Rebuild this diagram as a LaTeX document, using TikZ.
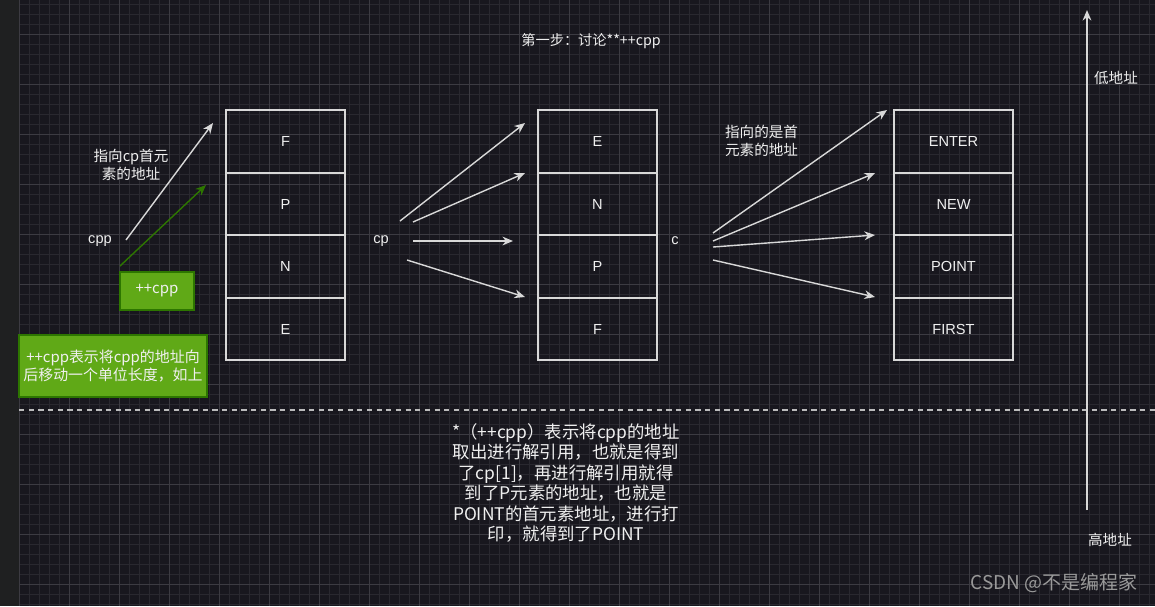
\documentclass[tikz,border=0pt]{standalone}
\usepackage{fontspec}
\setmainfont{Noto Sans CJK SC}
\newfontfamily\lat{Liberation Sans}
\usetikzlibrary{arrows.meta}
\definecolor{bg}{HTML}{18171E}
\definecolor{strip}{HTML}{1F2021}
\definecolor{gminor}{HTML}{29282F}
\definecolor{gmajor}{HTML}{3C3B42}
\definecolor{fg}{HTML}{F0F0F0}
\definecolor{ln}{HTML}{D8D8D8}
\definecolor{gfill}{HTML}{60A917}
\definecolor{gdraw}{HTML}{2D7600}
\definecolor{wm}{HTML}{9A9A9A}
\tikzset{
  cell/.style={draw=ln, line width=0.9pt, minimum width=2.38cm, minimum height=1.25cm, inner sep=0pt, text=fg, font=\lat\fontsize{8.3}{10}\selectfont},
  lbl/.style={text=fg, inner sep=1pt, font=\fontsize{8.3}{10}\selectfont},
  ptr/.style={draw=ln, line width=0.8pt, -{Stealth[length=6pt,width=5pt]}},
  gptr/.style={draw=gdraw, line width=0.8pt, -{Stealth[length=6pt,width=5pt]}},
  gbox/.style={fill=gfill, draw=gdraw, line width=0.6pt, text=fg, inner sep=0pt, align=center, font=\fontsize{8.5}{10.2}\selectfont},
}
\begin{document}
\begin{tikzpicture}[x=0.02cm,y=-0.02cm]
\fill[bg] (0,0) rectangle (1155,606);
\useasboundingbox (0,0) rectangle (1155,606);
% grid
\foreach \i in {0,...,115} {\draw[gminor, line width=0.3pt] ({9+10*\i},0) -- ({9+10*\i},606);}
\foreach \i in {0,...,60} {\draw[gminor, line width=0.3pt] (0,{4+10*\i}) -- (1155,{4+10*\i});}
\foreach \i in {0,...,23} {\draw[gmajor, line width=0.5pt] ({19+50*\i},0) -- ({19+50*\i},606);}
\foreach \i in {0,...,11} {\draw[gmajor, line width=0.5pt] (0,{34+50*\i}) -- (1155,{34+50*\i});}
\fill[strip] (0,0) rectangle (19,606);
% title
\node[lbl, font=\fontsize{8.1}{9.5}\selectfont] (title) at (591,41) {第一步：讨论**++cpp};
% boxes 1
\node[cell] (a1) at (285.5,141.5) {F};
\node[cell] (a2) at (285.5,204) {P};
\node[cell] (a3) at (285.5,266.5) {N};
\node[cell] (a4) at (285.5,329) {E};
% boxes 2
\node[cell] (b1) at (597.5,141.5) {E};
\node[cell] (b2) at (597.5,204) {N};
\node[cell] (b3) at (597.5,266.5) {P};
\node[cell] (b4) at (597.5,329) {F};
% boxes 3
\node[cell] (c1) at (953.5,141.5) {ENTER};
\node[cell] (c2) at (953.5,204) {NEW};
\node[cell] (c3) at (953.5,266.5) {POINT};
\node[cell] (c4) at (953.5,329) {FIRST};
% labels
\node[lbl, align=center, font=\fontsize{8.3}{10.2}\selectfont] (n1) at (131,165) {指向cp首元\\素的地址};
\node[lbl, font=\lat\fontsize{8.3}{10}\selectfont] (cpp) at (100,241) {cpp};
\node[lbl, font=\lat\fontsize{8.3}{10}\selectfont] (cp) at (381,241) {cp};
\node[lbl, font=\lat\fontsize{8.3}{10}\selectfont] (c) at (675,241) {c};
\node[lbl, align=left, anchor=west, font=\fontsize{8.3}{10.2}\selectfont] (n2) at (723,141) {指向的是首\\元素的地址};
\node[gbox, minimum width=1.48cm, minimum height=0.76cm] (inc) at (157,291) {++cpp};
\node[gbox, minimum width=3.76cm, minimum height=1.24cm] (expl) at (113,366) {++cpp表示将cpp的地址向\\后移动一个单位长度，如上};
% coordinates for arrows
\coordinate (s1) at (126,240); \coordinate (t1) at (213,123);
\coordinate (s2) at (120,266); \coordinate (t2) at (206,185);
\draw[ptr] (s1) -- (t1);
\draw[gptr] (s2) -- (t2);
\coordinate (p1) at (400,221); \coordinate (q1) at (525,123);
\coordinate (p2) at (413,222); \coordinate (q2) at (525,173);
\coordinate (p3) at (413,241); \coordinate (q3) at (513,241);
\coordinate (p4) at (407,260); \coordinate (q4) at (525,297);
\draw[ptr] (p1) -- (q1);
\draw[ptr] (p2) -- (q2);
\draw[ptr] (p3) -- (q3);
\draw[ptr] (p4) -- (q4);
\coordinate (r1) at (713,233); \coordinate (u1) at (887,110);
\coordinate (r2) at (713,241); \coordinate (u2) at (875,173);
\coordinate (r3) at (713,247); \coordinate (u3) at (875,235);
\coordinate (r4) at (713,260); \coordinate (u4) at (875,297);
\draw[ptr] (r1) -- (u1);
\draw[ptr] (r2) -- (u2);
\draw[ptr] (r3) -- (u3);
\draw[ptr] (r4) -- (u4);
% dashed separator
\coordinate (dl) at (19,410); \coordinate (dr) at (1155,410);
\draw[draw=ln!85!bg, line width=0.9pt, dash pattern=on 3pt off 2.5pt] (dl) -- (dr);
% address axis
\coordinate (ax0) at (1087,510); \coordinate (ax1) at (1087,10);
\draw[ptr] (ax0) -- (ax1);
\node[lbl] (low) at (1116,78) {低地址};
\node[lbl] (high) at (1110,540) {高地址};
% bottom explanation
\node[lbl, align=center, font=\fontsize{9.9}{11.6}\selectfont] (bot) at (566,483) {*（++cpp）表示将cpp的地址\\取出进行解引用，也就是得到\\了cp[1]，再进行解引用就得\\到了P元素的地址，也就是\\POINT的首元素地址，进行打\\印，就得到了POINT};
% watermark
\node[text=wm, inner sep=0pt, font=\fontsize{10.8}{12}\selectfont] (wmk) at (1054,583) {CSDN @不是编程家};
\end{tikzpicture}
\end{document}
